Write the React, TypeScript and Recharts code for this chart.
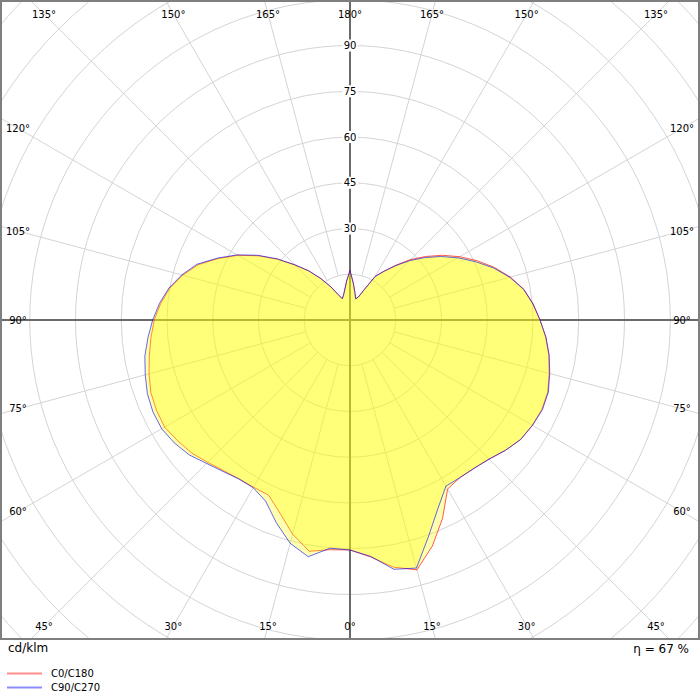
import { RadarChart, Radar, PolarGrid, PolarAngleAxis, PolarRadiusAxis } from 'recharts'

// gamma angles (0 = straight down, 180 = straight up), one value per 5 degrees
const gammas = [0, 5, 10, 15, 20, 25, 30, 35, 40, 45, 50, 55, 60, 65, 70, 75, 80, 85, 90, 95, 100, 105, 110, 115, 120, 125, 130, 135, 140, 145, 150, 155, 160, 165, 170, 175, 180]

// cd/klm, right half
const c0 = [75.4, 78.0, 82.3, 84.8, 78.9, 71.8, 64.0, 63.0, 63.4, 64.5, 66.5, 68.3, 69.0, 69.4, 69.0, 67.6, 66.2, 64.4, 62.3, 60.3, 57.9, 54.4, 50.4, 46.0, 41.5, 37.0, 32.4, 28.0, 23.5, 19.6, 16.5, 10.9, 8.0, 7.2, 9.2, 12.2, 16.2]
const c90 = [75.4, 77.8, 83.0, 84.2, 75.4, 68.2, 62.9, 63.0, 63.4, 64.5, 66.5, 68.3, 69.1, 69.6, 69.2, 67.8, 66.3, 64.5, 62.3, 60.2, 57.8, 54.2, 50.0, 45.3, 40.8, 36.3, 31.8, 27.5, 23.2, 19.5, 16.5, 10.9, 8.0, 7.2, 9.2, 12.2, 16.2]
// cd/klm, left half
const c180 = [75.4, 75.6, 77.0, 72.7, 67.3, 63.3, 63.3, 63.5, 64.5, 66.0, 67.8, 69.0, 70.2, 70.0, 69.5, 68.2, 66.8, 65.5, 64.2, 62.3, 60.0, 56.8, 53.0, 47.7, 42.4, 36.7, 31.0, 25.5, 21.0, 16.5, 12.5, 9.2, 7.4, 8.3, 10.0, 12.8, 16.2]
const c270 = [75.4, 75.1, 78.8, 75.8, 70.7, 65.5, 63.5, 63.6, 64.8, 66.5, 68.8, 70.3, 71.3, 71.3, 70.7, 69.5, 68.3, 66.5, 64.7, 62.7, 60.3, 57.1, 53.4, 48.0, 42.7, 37.0, 31.2, 25.6, 21.0, 16.5, 12.5, 9.2, 7.4, 8.3, 10.0, 12.8, 16.2]

// grid
const spokes = [0, 15, 30, 45, 60, 75, 90, 105, 120, 135, 150, 165, 180, 195, 210, 225, 240, 255, 270, 285, 300, 315, 330, 345]
const rings = [15, 30, 45, 60, 75, 90, 105, 120, 135, 150, 165]
const ringLabels = [30, 45, 60, 75, 90]

const W = 700
const H = 640
const CX = 350
const CY = 320
const MIN_R = 15
const MAX_R = 165
const OUTER = 503.25
// spokes start at the 15 ring; the radius scale stays proportional (r = value * OUTER / MAX_R)
const INNER = (OUTER / MAX_R) * MIN_R

// theta runs round the full circle counter-clockwise from the bottom
const right = gammas.map((g, i) => ({ theta: g, red: c0[i], blue: c90[i] }))
const left = gammas
  .map((g, i) => ({ theta: 360 - g, red: c180[i], blue: c270[i] }))
  .filter((d) => d.theta > 180 && d.theta < 360)
  .reverse()
const data = [...right, ...left]

const font = '"DejaVu Sans", sans-serif'
const box = { left: 18, right: 682, top: 14, bottom: 626 }

function AngleTick(props: any) {
  const { payload } = props
  const theta = payload.value
  const g = theta <= 180 ? theta : 360 - theta
  const a = (payload.coordinate * Math.PI) / 180
  const dx = Math.cos(a)
  const dy = -Math.sin(a)
  let t = Infinity
  if (dx > 1e-6) t = Math.min(t, (box.right - CX) / dx)
  if (dx < -1e-6) t = Math.min(t, (box.left - CX) / dx)
  if (dy > 1e-6) t = Math.min(t, (box.bottom - CY) / dy)
  if (dy < -1e-6) t = Math.min(t, (box.top - CY) / dy)
  return (
    <text x={CX + dx * t} y={CY + dy * t} textAnchor="middle" dominantBaseline="central" fontSize={10} fontFamily={font} fill="#000">
      {g}°
    </text>
  )
}

function RadiusTick(props: any) {
  const { x, y, payload } = props
  if (!ringLabels.includes(payload.value)) return <g />
  return (
    <g>
      <rect x={x - 8} y={y - 6} width={16} height={12} fill="#fff" />
      <text x={x} y={y} textAnchor="middle" dominantBaseline="central" fontSize={10} fontFamily={font} fill="#000">
        {payload.value}
      </text>
    </g>
  )
}

export default function App() {
  return (
    <div style={{ position: 'absolute', left: 0, top: 0, width: 700, height: 700, background: '#fff', fontFamily: font }}>
      <div style={{ position: 'absolute', left: 0, top: 0, width: W, height: H, overflow: 'hidden' }}>
        <RadarChart width={W} height={H} cx={CX} cy={CY} innerRadius={INNER} outerRadius={OUTER} startAngle={-90} endAngle={270} data={data}>
          <PolarGrid gridType="circle" stroke="#d4d4d4" strokeWidth={1} />
          <g>
            <line x1={0} y1={CY} x2={W} y2={CY} stroke="#6a6a6a" strokeWidth={2} />
            <line x1={CX} y1={0} x2={CX} y2={H} stroke="#6a6a6a" strokeWidth={2} />
          </g>
          <PolarAngleAxis dataKey="theta" type="number" domain={[0, 360]} ticks={spokes} tick={AngleTick} axisLine={false} tickLine={false} />
          <PolarRadiusAxis angle={90} type="number" domain={[MIN_R, MAX_R]} ticks={rings} tick={RadiusTick} axisLine={false} tickLine={false} allowDataOverflow />
          <Radar dataKey="red" stroke="#ff0000" strokeOpacity={0.65} strokeWidth={1} fill="#ffff00" fillOpacity={0.31} dot={false} activeDot={false} isAnimationActive={false} />
          <Radar dataKey="blue" stroke="#0000ff" strokeOpacity={0.6} strokeWidth={1} fill="#ffff00" fillOpacity={0.31} dot={false} activeDot={false} isAnimationActive={false} />
        </RadarChart>
      </div>
      <div style={{ position: 'absolute', left: 0, top: 0, width: W, height: H, boxSizing: 'border-box', border: '2px solid #7f7f7f', pointerEvents: 'none' }} />
      <div style={{ position: 'absolute', left: 8, top: 641, fontSize: 12, lineHeight: '14px' }}>cd/klm</div>
      <div style={{ position: 'absolute', right: 11, top: 642, fontSize: 12, lineHeight: '14px' }}>η = 67 %</div>
      <svg style={{ position: 'absolute', left: 0, top: 664 }} width={200} height={30}>
        <line x1={7} y1={9.5} x2={42} y2={9.5} stroke="#ff0000" strokeOpacity={0.45} strokeWidth={2} />
        <text x={51} y={9.5} dominantBaseline="central" fontSize={10} fontFamily={font} fill="#000">C0/C180</text>
        <line x1={7} y1={23.5} x2={42} y2={23.5} stroke="#0000ff" strokeOpacity={0.45} strokeWidth={2} />
        <text x={51} y={23.5} dominantBaseline="central" fontSize={10} fontFamily={font} fill="#000">C90/C270</text>
      </svg>
    </div>
  )
}
